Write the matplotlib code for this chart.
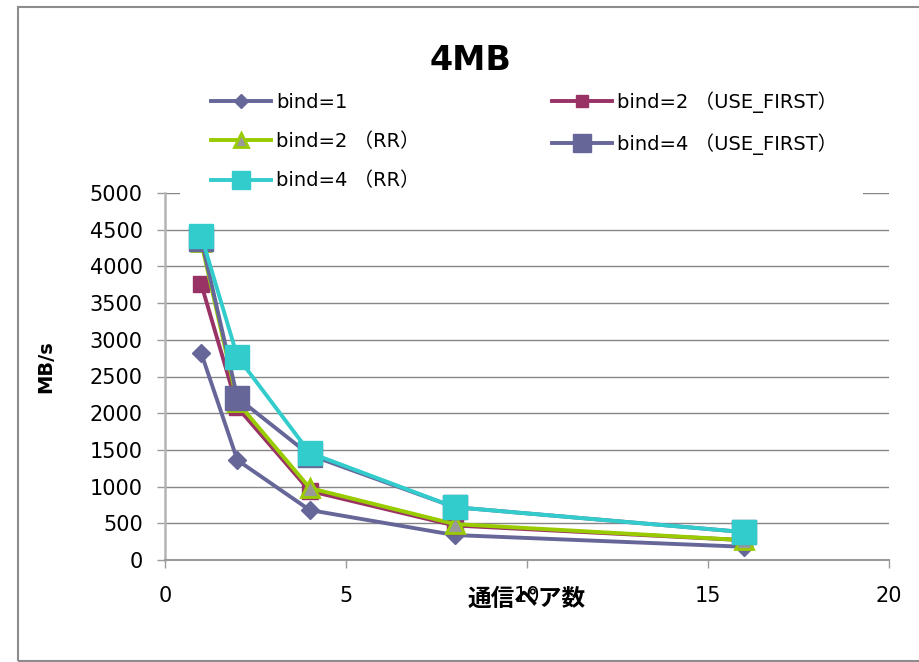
import matplotlib

matplotlib.use("Agg")
import matplotlib.pyplot as plt
from matplotlib.patches import Rectangle

FONTS = ["DejaVu Sans", "Noto Sans CJK JP"]
plt.rcParams["font.family"] = FONTS

# number of communicating pairs
pairs = [1, 2, 4, 8, 16]

bind1 = [2820, 1360, 680, 340, 180]
bind2_first = [3760, 2080, 940, 470, 270]
bind2_rr = [4330, 2150, 980, 490, 270]
bind4_first = [4380, 2210, 1430, 720, 380]
bind4_rr = [4420, 2770, 1460, 720, 380]

series = [
    ("bind=1", bind1, dict(color="#666699", marker="D", ms=9.5, mfc="#666699", mec="#666699")),
    ("bind=2 （USE_FIRST）", bind2_first, dict(color="#993366", marker="s", ms=11.5, mfc="#993366", mec="#993366")),
    ("bind=2 （RR）", bind2_rr, dict(color="#99CC00", marker="^", ms=13, mfc="#999999", mec="#99CC00", mew=2)),
    ("bind=4 （USE_FIRST）", bind4_first, dict(color="#666699", marker="s", ms=17, mfc="#666699", mec="#666699")),
    ("bind=4 （RR）", bind4_rr, dict(color="#33CCCC", marker="s", ms=17, mfc="#33CCCC", mec="#33CCCC")),
]

fig = plt.figure(figsize=(9.2, 6.62), dpi=100)
fig.patch.set_facecolor("white")

# chart area border
fig.patches.append(Rectangle((18 / 920, 1 / 662), 1.2, 1 - 8 / 662, transform=fig.transFigure,
                             fill=False, edgecolor="#8c8c8c", linewidth=1.5, zorder=0))

ax = fig.add_axes([165 / 920, 1 - 560 / 662, (889 - 165) / 920, (560 - 193) / 662])

handles = {}
for label, values, style in series:
    (line,) = ax.plot(pairs, values, label=label, linewidth=2.8, clip_on=False, zorder=3, **style)
    handles[label] = line

ax.set_xlim(0, 20)
ax.set_ylim(0, 5000)
ax.set_xticks(range(0, 21, 5))
ax.set_yticks(range(0, 5001, 500))
ax.yaxis.grid(True, color="#868686", linewidth=1)
ax.set_axisbelow(True)

for side in ["top", "right"]:
    ax.spines[side].set_visible(False)
ax.spines["left"].set_color("#b4b4b4")
ax.spines["left"].set_linewidth(1.8)
ax.spines["bottom"].set_color("#9a9a9a")
ax.spines["bottom"].set_linewidth(1.5)
ax.tick_params(axis="both", direction="out", length=6, width=1, color="#9a9a9a", labelsize=15)
ax.tick_params(axis="y", pad=10)
ax.tick_params(axis="x", pad=13)

ax.set_ylabel("MB/s", fontsize=14, fontweight="bold")
ax.yaxis.set_label_coords(55 / 920, 1 - 367 / 662, transform=fig.transFigure)
fig.text(527 / 920, 1 - 599 / 662, "通信ペア数", ha="center", va="center",
         fontsize=17, fontweight="bold", family=["Noto Sans CJK JP", "DejaVu Sans"])

fig.text(471 / 920, 1 - 60 / 662, "4MB", ha="center", va="center", fontsize=24, fontweight="bold")

# white band behind the legend, hiding the top gridline
fig.patches.append(Rectangle((180 / 920, 1 - 197 / 662), (863 - 180) / 920, 120 / 662,
                             transform=fig.transFigure, facecolor="white", edgecolor="none", zorder=1))

order = ["bind=1", "bind=2 （RR）", "bind=4 （RR）", "bind=2 （USE_FIRST）", "bind=4 （USE_FIRST）"]
leg = fig.legend([handles[k] for k in order], order, loc="upper left",
                 bbox_to_anchor=(211 / 920, 1 - 91 / 662), ncol=2, frameon=False,
                 fontsize=14, handlelength=3.1, handletextpad=0.25, columnspacing=6.8,
                 labelspacing=1.05, markerscale=0.78, borderpad=0, borderaxespad=0)
leg.set_zorder(5)

fig.savefig("out.png", dpi=100)
